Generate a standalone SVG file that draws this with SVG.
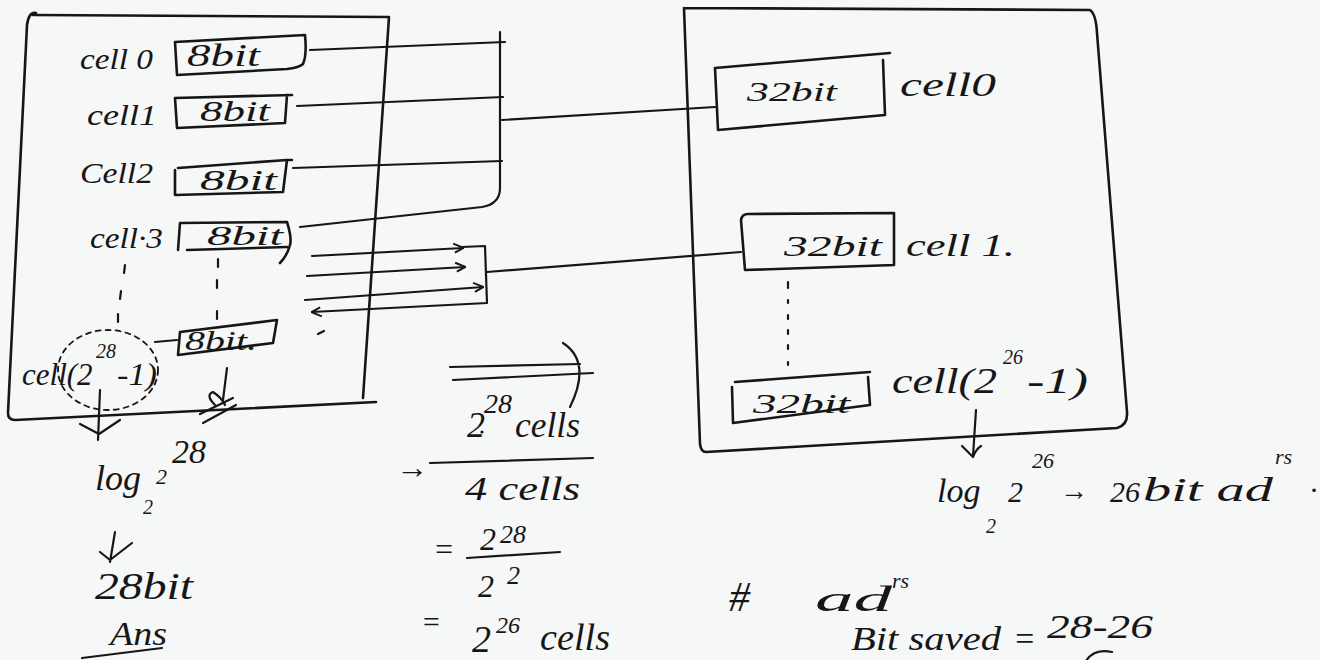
<svg xmlns="http://www.w3.org/2000/svg" width="1320" height="660" viewBox="0 0 1320 660">
<defs>
<style>
.s{fill:none;stroke:#161616;stroke-width:2.6;stroke-linecap:round;stroke-linejoin:round}
.w{fill:none;stroke:#161616;stroke-width:2.2;stroke-linecap:round;stroke-linejoin:round}
.d{fill:none;stroke:#161616;stroke-width:1.8;stroke-dasharray:5 5;stroke-linecap:round}
.t{font-family:"Liberation Serif","DejaVu Serif",serif;font-style:italic;fill:#161616}
</style>
<marker id="ah" viewBox="0 0 10 10" refX="9" refY="5" markerWidth="12" markerHeight="12" markerUnits="userSpaceOnUse" orient="auto">
<path d="M1,1 L9.5,5 L2,8.5" fill="none" stroke="#161616" stroke-width="1.6"/>
</marker>
</defs>
<rect width="1320" height="660" fill="#f6f7f7"/>

<g id="left-memory">
<path class="s" d="M36,13 C30,12 28,18 27,25 L8,413 Q8,420 15,420 L376,402"/>
<path class="s" d="M33,15 L389,17 L363,398"/>
<text class="t" x="80" y="69" font-size="30" textLength="73" lengthAdjust="spacingAndGlyphs">cell 0</text>
<text class="t" x="87" y="125" font-size="30" textLength="70" lengthAdjust="spacingAndGlyphs">cell1</text>
<text class="t" x="80" y="183" font-size="30" textLength="73" lengthAdjust="spacingAndGlyphs">Cell2</text>
<text class="t" x="90" y="248" font-size="30" textLength="73" lengthAdjust="spacingAndGlyphs">cell·3</text>
<text class="t" font-size="31"><tspan x="22" y="385">cell(2</tspan><tspan x="96" y="358" font-size="20">28</tspan><tspan x="117" y="385" textLength="40" lengthAdjust="spacingAndGlyphs">-1)</tspan></text>
<ellipse class="d" cx="108" cy="370" rx="50" ry="40"/>
<path class="w" d="M125,265 L124,273 M121,291 L120,299 M118,314 L118,322 M218,259 L218,267 M217,280 L217,288 M217,311 L217,319"/>
<path class="w" d="M227,368 L223,400 M215,405 Q205,395 213,392 Q222,398 225,405 M200,414 L233,398 M203,423 L236,405"/>
<path class="w" d="M318,334 L324,331"/>
</g>

<g id="cell0-8bit">
<path class="s" d="M175,42 L305,35 Q307,55 303,64 Q298,68 287,69 L177,75 Z"/>
<text class="t" x="187" y="66" font-size="32" textLength="73" lengthAdjust="spacingAndGlyphs">8bit</text>
</g>
<g id="cell1-8bit">
<path class="s" d="M175,98 L292,95 M287,95 L285,123 L177,128 L175,98"/>
<text class="t" x="200" y="121" font-size="30" textLength="70" lengthAdjust="spacingAndGlyphs">8bit</text>
</g>
<g id="cell2-8bit">
<path class="s" d="M175,170 L175,195 L283,192 L287,160 L178,168 M287,160 L292,160"/>
<text class="t" x="200" y="190" font-size="30" textLength="77" lengthAdjust="spacingAndGlyphs">8bit</text>
</g>
<g id="cell3-8bit">
<path class="s" d="M178,250 L180,223 L287,222 Q292,238 290,245 Q287,256 280,263 M187,250 L287,247"/>
<text class="t" x="207" y="245" font-size="28" textLength="76" lengthAdjust="spacingAndGlyphs">8bit</text>
</g>
<g id="celllast-8bit">
<path class="s" d="M180,332 L277,320 L273,343 L178,355 Z"/>
<text class="t" x="185" y="350" font-size="28" textLength="72" lengthAdjust="spacingAndGlyphs">8bit.</text>
</g>

<g id="right-memory">
<path class="s" d="M684,8 L1090,10 Q1096,14 1097,33 L1127,412 Q1128,425 1117,428 L706,452 Q701,452 700,444 L684,8"/>
</g>
<g id="cell0-32bit">
<path class="s" d="M715,68 L890,53 M883,60 L885,115 L718,130 L715,68"/>
<text class="t" x="747" y="101" font-size="28" textLength="90" lengthAdjust="spacingAndGlyphs">32bit</text>
<text class="t" x="900" y="96" font-size="34" textLength="96" lengthAdjust="spacingAndGlyphs">cell0</text>
</g>
<g id="cell1-32bit">
<path class="s" d="M741,220 Q742,214 748,214 L894,213 L894,265 L745,270 L741,220"/>
<text class="t" x="784" y="256" font-size="30" textLength="98" lengthAdjust="spacingAndGlyphs">32bit</text>
<text class="t" x="906" y="256" font-size="32" textLength="109" lengthAdjust="spacingAndGlyphs">cell 1.</text>
</g>
<g id="celllast-32bit">
<path class="s" d="M735,382 L870,372 M868,377 L870,405 L733,423 L732,387"/>
<text class="t" x="753" y="413" font-size="28" textLength="97" lengthAdjust="spacingAndGlyphs">32bit</text>
<text class="t" font-size="36"><tspan x="892" y="393" textLength="105" lengthAdjust="spacingAndGlyphs">cell(2</tspan><tspan x="1003" y="364" font-size="20">26</tspan><tspan x="1027" y="393" textLength="61" lengthAdjust="spacingAndGlyphs">-1)</tspan></text>
<path class="w" d="M788,282 L788,288 M788,300 L788,303 M788,315 L788,319 M788,330 L788,334 M788,345 L788,349 M788,362 L788,365"/>
</g>

<g id="connectors">
<path class="w" d="M310,50 L505,42"/>
<path class="w" d="M297,106 L503,97"/>
<path class="w" d="M293,168 L502,161"/>
<path class="w" d="M300,227 L482,207 Q500,204 500,188 L500,32"/>
<path class="w" d="M502,120 L715,107"/>
<path class="w" d="M312,256 L463,248" marker-end="url(#ah)"/>
<path class="w" d="M307,276 L465,267" marker-end="url(#ah)"/>
<path class="w" d="M305,300 L483,287" marker-end="url(#ah)"/>
<path class="w" d="M462,247 L485,246 L487,303 L312,312" marker-end="url(#ah)"/>
<path class="w" d="M487,272 L741,252"/>
<path class="w" d="M155,342 L177,340"/>
<path class="w" d="M100,390 L98,440"/>
<path class="w" d="M80,424 L99,434 L120,420"/>
</g>

<g id="left-calc">
<text class="t" font-size="36"><tspan x="95" y="490">log</tspan><tspan x="143" y="514" font-size="20">2</tspan><tspan x="156" y="484" font-size="22">2</tspan><tspan x="172" y="463" font-size="34">28</tspan></text>
<path class="w" d="M115,532 L110,562 M100,552 L110,560 L132,543"/>
<text class="t" x="95" y="599" font-size="38" textLength="98" lengthAdjust="spacingAndGlyphs">28bit</text>
<text class="t" x="110" y="645" font-size="34" textLength="57" lengthAdjust="spacingAndGlyphs">Ans</text>
<path class="w" d="M82,658 L162,648"/>
</g>

<g id="middle-calc">
<path class="w" d="M450,367 L580,364 M453,380 L593,373 M563,343 Q592,362 570,407"/>
<text class="t" font-size="36"><tspan x="467" y="437">2</tspan><tspan x="484" y="413" font-size="28">28</tspan><tspan x="515" y="437" textLength="65" lengthAdjust="spacingAndGlyphs">cells</tspan></text>
<circle cx="482" cy="432" r="1.6" fill="#161616"/>
<text class="t" x="396" y="478" font-size="32">→</text>
<path class="w" d="M430,463 L593,458"/>
<text class="t" x="465" y="500" font-size="34" textLength="115" lengthAdjust="spacingAndGlyphs">4 cells</text>
<text class="t" font-size="32"><tspan x="433" y="560">=</tspan><tspan x="480" y="550">2</tspan><tspan x="500" y="543" font-size="26">28</tspan></text>
<path class="w" d="M467,558 L560,552"/>
<text class="t" font-size="32"><tspan x="478" y="597">2</tspan><tspan x="507" y="584" font-size="26">2</tspan></text>
<text class="t" font-size="38"><tspan x="421" y="632" font-size="30">=</tspan><tspan x="472" y="652">2</tspan><tspan x="496" y="633" font-size="24">26</tspan><tspan x="540" y="650" textLength="70" lengthAdjust="spacingAndGlyphs">cells</tspan></text>
</g>

<g id="right-calc">
<path class="w" d="M976,410 L973,456 M962,446 Q968,452 973,457 Q976,449 981,446"/>
<text class="t" font-size="34"><tspan x="937" y="502">log</tspan><tspan x="986" y="533" font-size="20">2</tspan><tspan x="1008" y="502" font-size="30">2</tspan><tspan x="1032" y="468" font-size="22">26</tspan><tspan x="1060" y="500" font-size="28">→</tspan><tspan x="1110" y="502" font-size="30">26</tspan><tspan x="1143" y="501" font-size="34" textLength="130" lengthAdjust="spacingAndGlyphs">bit ad</tspan><tspan x="1275" y="464" font-size="22">rs</tspan><tspan x="1311" y="492" font-size="30">.</tspan></text>
<text class="t" font-size="36"><tspan x="729" y="611" font-size="42">#</tspan><tspan x="815" y="611" textLength="77" lengthAdjust="spacingAndGlyphs">ad</tspan><tspan x="892" y="588" font-size="22">rs</tspan></text>
<text class="t" font-size="34"><tspan x="851" y="650" textLength="150" lengthAdjust="spacingAndGlyphs">Bit saved</tspan><tspan x="1013" y="650">=</tspan><tspan x="1047" y="638" textLength="106" lengthAdjust="spacingAndGlyphs">28-26</tspan></text>
<path class="w" d="M1086,661 Q1094,648 1112,652"/>
</g>
</svg>
